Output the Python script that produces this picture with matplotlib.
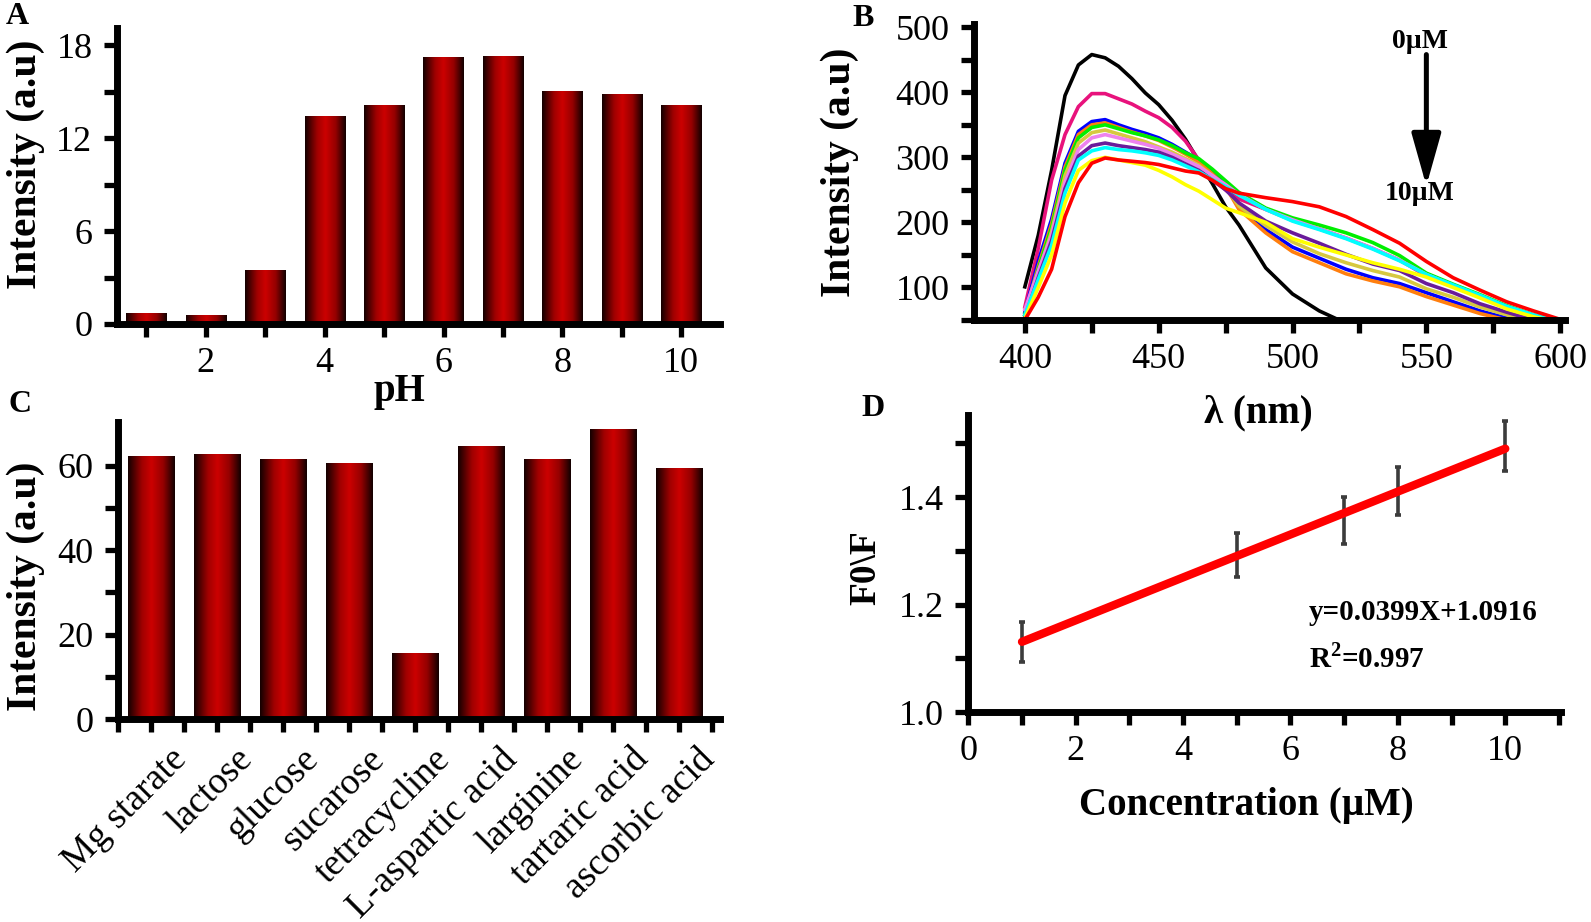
import numpy as np
import matplotlib
matplotlib.use('Agg')
import matplotlib.pyplot as plt
from matplotlib.colors import LinearSegmentedColormap
from matplotlib.ticker import MultipleLocator, FixedLocator
import matplotlib.transforms as mtransforms

# ---- data ----
# A: pH effect
ph = [1, 2, 3, 4, 5, 6, 7, 8, 9, 10]
ph_intensity = [0.7, 0.55, 3.45, 13.4, 14.1, 17.2, 17.3, 15.0, 14.8, 14.1]

# B: emission spectra, 0 -> 10 uM
wavelength = [400, 405, 410, 415, 420, 425, 430, 435, 440, 445, 450, 455, 460, 465, 470,
              475, 480, 490, 500, 510, 520, 530, 540, 550, 560, 570, 580, 590, 600]
spec_black = [101, 180, 280, 395, 442, 458, 453, 440, 421, 399, 381, 357, 328, 294, 260,
              224, 196, 130, 90, 64, 45, 40, 40, 40, 40, 40, 40, 40, 40]
spec_pink = [70, 160, 265, 335, 378, 398, 398, 390, 382, 371, 361, 346, 325, 296, 268,
             250, 236, 220, 203, 190, 176, 160, 142, 118, 102, 86, 70, 57, 47]
spec_blue = [62, 140, 205, 291, 340, 355, 358, 350, 343, 337, 330, 320, 308, 296, 278,
             258, 222, 189, 162, 145, 128, 115, 106, 92, 78, 64, 53, 45, 40]
spec_orange = [58, 132, 198, 285, 335, 350, 353, 346, 339, 333, 326, 316, 305, 293, 275,
               255, 220, 184, 155, 138, 121, 110, 101, 86, 73, 60, 50, 42, 38]
spec_green = [58, 128, 192, 280, 330, 346, 350, 344, 338, 333, 327, 318, 307, 298, 282,
              264, 246, 222, 207, 196, 184, 169, 149, 122, 105, 89, 72, 58, 48]
spec_khaki = [55, 122, 186, 272, 322, 338, 342, 336, 330, 324, 316, 308, 298, 288, 272,
              254, 225, 195, 170, 152, 138, 126, 116, 98, 85, 70, 58, 48, 42]
spec_violet = [66, 125, 180, 262, 312, 330, 335, 330, 325, 320, 314, 305, 296, 286, 272,
               258, 243, 220, 204, 190, 176, 160, 142, 120, 103, 87, 70, 57, 47]
spec_purple = [54, 115, 172, 252, 302, 318, 322, 318, 315, 312, 308, 300, 290, 280, 265,
               250, 230, 202, 184, 168, 151, 136, 126, 106, 92, 75, 62, 50, 44]
spec_cyan = [58, 112, 165, 245, 296, 310, 315, 312, 310, 307, 303, 296, 287, 278, 266,
             255, 242, 220, 202, 189, 175, 159, 141, 120, 104, 88, 71, 58, 48]
spec_yellow = [52, 100, 150, 230, 280, 295, 300, 296, 292, 288, 280, 270, 258, 248, 235,
               222, 215, 200, 175, 162, 150, 138, 128, 116, 100, 84, 67, 55, 46]
spec_red = [50, 85, 128, 209, 261, 291, 299, 296, 294, 292, 289, 284, 279, 276, 265,
            252, 245, 238, 232, 224, 209, 189, 168, 140, 115, 96, 78, 64, 51]

# C: selectivity
interferents = ['Mg starate', 'lactose', 'glucose', 'sucarose', 'tetracycline',
                'L-aspartic acid', 'larginine', 'tartaric acid', 'ascorbic acid']
interferent_intensity = [62.1, 62.5, 61.4, 60.5, 15.5, 64.4, 61.4, 68.5, 59.4]

# D: calibration
conc = [1, 5, 7, 8, 10]
f0f = [1.131, 1.293, 1.357, 1.411, 1.495]
f0f_err = [0.037, 0.041, 0.044, 0.045, 0.046]
fit_x = [1, 10]
fit_y = [1.131, 1.490]

# ---- style ----
plt.rcParams['font.family'] = ['Liberation Serif', 'DejaVu Serif']
plt.rcParams['mathtext.fontset'] = 'custom'
plt.rcParams['mathtext.rm'] = 'Liberation Serif'
plt.rcParams['mathtext.bf'] = 'Liberation Serif:bold'

W, H = 1591, 922
fig = plt.figure(figsize=(W / 100, H / 100), dpi=100)


def box(x0, y0, x1, y1):
    return [x0 / W, 1 - y1 / H, (x1 - x0) / W, (y1 - y0) / H]


def px(x, y):
    return x / W, 1 - y / H


bar_cmap = LinearSegmentedColormap.from_list(
    'cyl', [(0, '#120000'), (0.3, '#a00000'), (0.5, '#cc0000'), (0.75, '#950000'), (1, '#100000')])


def style_axes(ax):
    for s in ['top', 'right']:
        ax.spines[s].set_visible(False)
    for s in ['left', 'bottom']:
        ax.spines[s].set_linewidth(5)
    ax.tick_params(which='both', direction='out', length=9.5, width=3.8, labelsize=26, pad=7)
    ax.tick_params(axis='y', which='both', pad=8)


def gradient_bars(ax, x, h, width):
    bars = ax.bar(x, h, width=width, color='none', edgecolor='none')
    grad = np.linspace(0, 1, 256).reshape(1, -1)
    for b in bars:
        x0, y0 = b.get_x(), b.get_y()
        ax.imshow(grad, extent=[x0, x0 + b.get_width(), y0, y0 + b.get_height()],
                  cmap=bar_cmap, aspect='auto', zorder=2, interpolation='bicubic')


# ---- A ----
axA = fig.add_axes(box(116.7, 28.4, 720, 324))
gradient_bars(axA, ph, ph_intensity, 0.68)
axA.set_xlim(0.5, 10.65)
axA.set_ylim(0, 19.1)
axA.set_xticks([2, 4, 6, 8, 10])
axA.xaxis.set_minor_locator(FixedLocator([1, 3, 5, 7, 9]))
axA.set_yticks([0, 6, 12, 18])
axA.yaxis.set_minor_locator(FixedLocator([3, 9, 15]))
style_axes(axA)

# ---- B ----
axB = fig.add_axes(box(974, 24, 1565, 320))
spectra = [(spec_black, 'black'), (spec_pink, '#e8127c'), (spec_blue, '#0000ff'),
           (spec_orange, '#ff7f0e'), (spec_green, '#00ee00'), (spec_khaki, '#d6c840'),
           (spec_violet, '#ee82ee'), (spec_purple, '#6a1b9a'), (spec_cyan, '#00ffff'),
           (spec_yellow, '#ffff00'), (spec_red, '#ff0000')]
for vals, col in spectra:
    axB.plot(wavelength, vals, color=col, lw=2.6)
axB.set_xlim(381, 601.8)
axB.set_ylim(50, 505)
axB.set_xticks([400, 450, 500, 550, 600])
axB.xaxis.set_minor_locator(MultipleLocator(25))
axB.set_yticks([100, 200, 300, 400, 500])
axB.yaxis.set_minor_locator(FixedLocator([50, 150, 250, 350, 450]))
style_axes(axB)
axB.annotate('', xy=(550, 256), xytext=(550, 458),
             arrowprops=dict(arrowstyle='-|>,head_length=1.6,head_width=0.45',
                             mutation_scale=20, lw=3.6, color='black', shrinkA=0, shrinkB=0))
fig.text(*px(1420, 41), '0µM', fontsize=20, fontweight='bold', ha='center', va='center')
fig.text(*px(1420, 193), '10µM', fontsize=20, fontweight='bold', ha='center', va='center')

# ---- C ----
axC = fig.add_axes(box(118, 422, 720, 719))
xc = list(range(1, len(interferents) + 1))
gradient_bars(axC, xc, interferent_intensity, 0.70)
axC.set_xlim(0.5, 9.62)
axC.set_ylim(0, 70.3)
axC.set_xticks(xc)
axC.set_xticklabels(interferents, rotation=45, ha='right', rotation_mode='anchor')
axC.xaxis.set_minor_locator(FixedLocator([i + 0.5 for i in range(0, 10)]))
axC.set_yticks([0, 20, 40, 60])
axC.yaxis.set_minor_locator(FixedLocator([10, 30, 50]))
style_axes(axC)
offset = mtransforms.ScaledTranslation(18 / 100, 0, fig.dpi_scale_trans)
for lab in axC.get_xticklabels():
    lab.set_fontsize(27)
    lab.set_transform(lab.get_transform() + offset)

# ---- D ----
axD = fig.add_axes(box(968.3, 415.3, 1560.6, 712.3))
axD.errorbar(conc, f0f, yerr=f0f_err, fmt='none', ecolor='#3c3c3c', elinewidth=2.6,
             capsize=2.5, capthick=2.6, zorder=2)
axD.plot(fit_x, fit_y, color='#ff0000', lw=6, solid_capstyle='round', zorder=3)
axD.set_xlim(0, 11.03)
axD.set_ylim(1.0, 1.552)
axD.set_xticks([0, 2, 4, 6, 8, 10])
axD.xaxis.set_minor_locator(FixedLocator([1, 3, 5, 7, 9, 11]))
axD.set_yticks([1.0, 1.2, 1.4])
axD.yaxis.set_minor_locator(FixedLocator([1.1, 1.3, 1.5]))
style_axes(axD)
fig.text(*px(1309, 612), 'y=0.0399X+1.0916', fontsize=21, fontweight='bold', ha='left', va='center')
fig.text(*px(1309, 658), r'R$^{\mathbf{2}}$=0.997', fontsize=21, fontweight='bold', ha='left', va='center')

# ---- axis labels and panel letters ----
lab = dict(fontweight='bold', ha='center', va='center')
fig.text(*px(26, 164), 'Intensity (a.u)', fontsize=30, rotation=90, **lab)
fig.text(*px(26, 586), 'Intensity (a.u)', fontsize=30, rotation=90, **lab)
fig.text(*px(840, 172), 'Intensity (a.u)', fontsize=30, rotation=90, **lab)
fig.text(*px(866, 568), 'F0\\F', fontsize=27, rotation=90, **lab)
fig.text(*px(399, 391), 'pH', fontsize=28, **lab)
fig.text(*px(1258, 413), 'λ (nm)', fontsize=28, **lab)
fig.text(*px(1246, 805), 'Concentration (µM)', fontsize=28, **lab)
fig.text(*px(17, 16), 'A', fontsize=23, **lab)
fig.text(*px(863, 18), 'B', fontsize=23, **lab)
fig.text(*px(20, 404), 'C', fontsize=23, **lab)
fig.text(*px(873, 409), 'D', fontsize=23, **lab)

fig.savefig('out.png', dpi=100)
